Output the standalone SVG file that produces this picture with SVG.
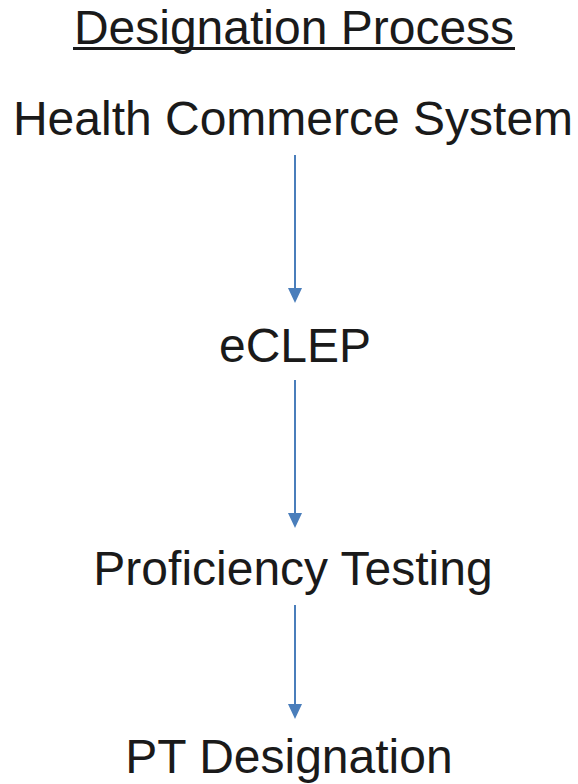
<svg xmlns="http://www.w3.org/2000/svg" width="578" height="784" viewBox="0 0 578 784">
<style>
.t{font-family:"Liberation Sans",Arial,sans-serif;font-size:48px;fill:#1a1a1a;text-anchor:middle}
.c{stroke:#4a7ebb;stroke-width:2;fill:none}
</style>
<rect width="578" height="784" fill="#fff"/>
<g id="title">
<text class="t" x="294" y="44">Designation Process</text>
<rect x="73" y="47" width="442" height="3" fill="#1a1a1a"/>
</g>
<g id="hcs"><text class="t" x="293" y="135">Health Commerce System</text></g>
<g id="eclep"><text class="t" x="295" y="362">eCLEP</text></g>
<g id="pt"><text class="t" x="293" y="585">Proficiency Testing</text></g>
<g id="ptd"><text class="t" x="289" y="773">PT Designation</text></g>
<g id="connectors">
<path class="c" d="M295,155 V288"/>
<path d="M288,288 L302,288 L295,303 Z" fill="#4a7ebb"/>
<path class="c" d="M295,380 V513"/>
<path d="M288,513 L302,513 L295,528 Z" fill="#4a7ebb"/>
<path class="c" d="M295,605 V704"/>
<path d="M288,704 L302,704 L295,719 Z" fill="#4a7ebb"/>
</g>
</svg>
